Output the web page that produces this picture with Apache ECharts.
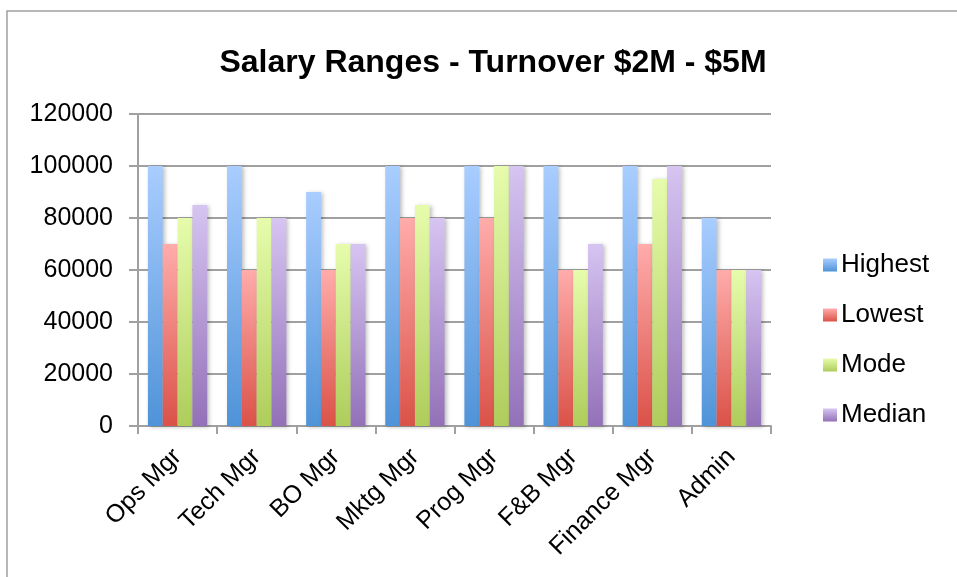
<!DOCTYPE html>
<html lang="en">

<head>
    <meta charset="UTF-8">
    <title>Salary Ranges</title>
    <script src="https://cdnjs.cloudflare.com/ajax/libs/echarts/6.0.0/echarts.min.js"></script>
    <style>
        body { margin: 0; background: #fff; }
    </style>
</head>

<body>
    <div id="main" style="width: 957px;height:577px;"></div>

    <script type="text/javascript">
        const categories = ["Ops Mgr", "Tech Mgr", "BO Mgr", "Mktg Mgr", "Prog Mgr", "F&B Mgr", "Finance Mgr", "Admin"];
        const highest = [100000, 100000, 90000, 100000, 100000, 100000, 100000, 80000];
        const lowest = [70000, 60000, 60000, 80000, 80000, 60000, 70000, 60000];
        const mode = [80000, 80000, 70000, 85000, 100000, 60000, 95000, 60000];
        const median = [85000, 80000, 70000, 80000, 100000, 70000, 100000, 60000];

        const myChart = echarts.init(document.getElementById('main'));

        function grad(top, bottom) {
            return new echarts.graphic.LinearGradient(0, 0, 0, 1, [
                { offset: 0, color: top },
                { offset: 1, color: bottom }
            ]);
        }

        function makeSeries(name, data, top, bottom) {
            return {
                name: name,
                type: 'bar',
                data: data,
                barGap: '0%',
                barCategoryGap: '25%',
                itemStyle: {
                    color: grad(top, bottom),
                    shadowColor: 'rgba(0,0,0,0.25)',
                    shadowBlur: 4,
                    shadowOffsetX: 2,
                    shadowOffsetY: 1
                }
            };
        }

        const font = 'Liberation Sans, Arial, sans-serif';

        var option = {
            animation: false,
            title: {
                text: 'Salary Ranges - Turnover $2M - $5M',
                left: 488,
                top: 42,
                textAlign: 'center',
                textStyle: { fontFamily: font, fontSize: 32, fontWeight: 'bold', color: '#000' }
            },
            legend: {
                orient: 'vertical',
                left: 818,
                top: 247,
                itemWidth: 14,
                itemHeight: 13,
                itemGap: 24,
                icon: 'rect',
                textStyle: { fontFamily: font, fontSize: 26, color: '#000', padding: [0, 0, 0, -1] },
                data: ['Highest', 'Lowest', 'Mode', 'Median']
            },
            grid: {
                left: 138,
                top: 114,
                width: 633,
                height: 312,
                containLabel: false
            },
            xAxis: {
                type: 'category',
                data: categories,
                axisLine: { lineStyle: { color: '#a0a0a0', width: 2 } },
                axisTick: { show: true, length: 8, lineStyle: { color: '#a0a0a0', width: 2 } },
                axisLabel: {
                    rotate: 45,
                    margin: 27,
                    interval: 0,
                    fontFamily: font,
                    fontSize: 25,
                    color: '#000'
                }
            },
            yAxis: {
                type: 'value',
                min: 0,
                max: 120000,
                interval: 20000,
                axisLine: { show: true, lineStyle: { color: '#a0a0a0', width: 2 } },
                axisTick: { show: true, length: 9, lineStyle: { color: '#a0a0a0', width: 2 } },
                axisLabel: {
                    margin: 25,
                    fontFamily: font,
                    fontSize: 25,
                    color: '#000',
                    formatter: (v) => String(v)
                },
                splitLine: { lineStyle: { color: '#a0a0a0', width: 2 } }
            },
            graphic: [
                {
                    type: 'rect',
                    shape: { x: 7, y: 11, width: 1000, height: 700 },
                    style: { fill: 'none', stroke: '#a0a0a0', lineWidth: 1.5 },
                    silent: true
                }
            ],
            series: [
                makeSeries('Highest', highest, '#a9cdff', '#4f93d8'),
                makeSeries('Lowest', lowest, '#ffacab', '#da5248'),
                makeSeries('Mode', mode, '#e6fcac', '#aecd5b'),
                makeSeries('Median', median, '#d6c4f1', '#9371b8')
            ]
        };

        myChart.setOption(option);
    </script>
</body>

</html>
